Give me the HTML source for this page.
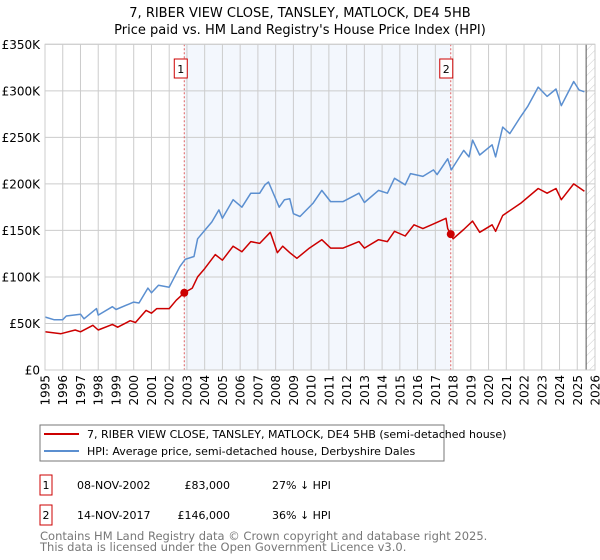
<!DOCTYPE html>
<html><head><meta charset="utf-8"><style>
body{margin:0;background:#fff;font-family:"DejaVu Sans","Liberation Sans",sans-serif;}
svg{display:block}
</style></head><body>
<svg id="c" width="600" height="560" xmlns="http://www.w3.org/2000/svg">
<defs><pattern id="hatch" width="6" height="6" patternUnits="userSpaceOnUse" patternTransform="rotate(45)"><line x1="0" y1="0" x2="0" y2="6" stroke="#ccc" stroke-width="1"/></pattern></defs>
<text x="300" y="17" text-anchor="middle" font-size="13" fill="#000">7, RIBER VIEW CLOSE, TANSLEY, MATLOCK, DE4 5HB</text>
<text x="300" y="34" text-anchor="middle" font-size="13" fill="#000">Price paid vs. HM Land Registry's House Price Index (HPI)</text>
<g id="plot"></g>
<rect x="40" y="425" width="404" height="36" fill="#fff" stroke="#777"/>
<line x1="44" y1="434" x2="79" y2="434" stroke="#cc0000" stroke-width="2"/>
<text x="87" y="438" font-size="11">7, RIBER VIEW CLOSE, TANSLEY, MATLOCK, DE4 5HB (semi-detached house)</text>
<line x1="44" y1="451" x2="79" y2="451" stroke="#5b8fd0" stroke-width="2"/>
<text x="87" y="455" font-size="11">HPI: Average price, semi-detached house, Derbyshire Dales</text>
<g>
<rect x="40" y="475" width="12" height="20" fill="#fff" stroke="#cc0000"/>
<text x="46" y="489" font-size="11" text-anchor="middle">1</text>
<text x="77" y="489" font-size="11">08-NOV-2002</text>
<text x="230" y="489" font-size="11" text-anchor="end">£83,000</text>
<text x="272" y="489" font-size="11">27% ↓ HPI</text></g>
<g>
<rect x="40" y="505" width="12" height="20" fill="#fff" stroke="#cc0000"/>
<text x="46" y="519" font-size="11" text-anchor="middle">2</text>
<text x="77" y="519" font-size="11">14-NOV-2017</text>
<text x="230" y="519" font-size="11" text-anchor="end">£146,000</text>
<text x="272" y="519" font-size="11">36% ↓ HPI</text></g>
<text x="40" y="540" font-size="11.5" fill="#777">Contains HM Land Registry data © Crown copyright and database right 2025.</text>
<text x="40" y="551" font-size="11.5" fill="#777">This data is licensed under the Open Government Licence v3.0.</text>
</svg>
<script>
const hpiYears=[1995,1995.5,1996,1996.2,1997,1997.2,1997.9,1998,1998.8,1999,2000,2000.3,2000.8,2001,2001.4,2002,2002.6,2002.9,2003.4,2003.6,2004,2004.4,2004.8,2005,2005.6,2006.1,2006.6,2007.1,2007.4,2007.6,2008.2,2008.5,2008.8,2009,2009.37,2010.1,2010.6,2011.1,2011.8,2012.7,2013.0,2013.8,2014.3,2014.7,2015.3,2015.6,2016.3,2016.9,2017.1,2017.7,2017.9,2018.6,2018.9,2019.1,2019.5,2020.2,2020.4,2020.8,2021.2,2021.8,2022.2,2022.8,2023.3,2023.8,2024.1,2024.8,2025.1,2025.4];
const hpiValues=[57,54,54,58,60,55,66,59,68,65,73,72,88,83,91,89,111,119,122,141,150,159,172,163,183,175,190,190,199,202,175,183,184,168,165,179,193,181,181,190,180,193,190,206,199,211,208,215,210,227,215,236,229,247,231,242,229,261,254,272,283,304,294,302,284,310,301,299];
const priceYears=[1995,1995.9,1996.7,1997,1997.7,1998,1998.8,1999.1,1999.8,2000.1,2000.7,2001,2001.3,2002,2002.4,2002.85,2003.3,2003.6,2004,2004.6,2005,2005.6,2006.1,2006.6,2007.1,2007.7,2008.1,2008.4,2008.8,2009.2,2009.9,2010.6,2011.1,2011.8,2012.7,2013,2013.8,2014.3,2014.7,2015.3,2015.8,2016.3,2016.9,2017.6,2017.7,2017.87,2018,2018.6,2019.1,2019.5,2020.2,2020.4,2020.8,2021.8,2022.8,2023.3,2023.8,2024.1,2024.8,2025.4];
const priceValues=[41,39,43,41,48,43,49,46,53,51,64,61,66,66,75,83,88,100,109,124,118,133,127,138,136,148,126,133,126,120,131,140,131,131,138,131,140,138,149,144,156,152,157,163,152,146,141,151,160,148,156,149,166,179,195,190,195,183,200,192];
const saleYears=[2002.85,2017.87];
const saleValues=[83,146];
const saleLabels=["1","2"];
const yTicks=[0,50,100,150,200,250,300,350];
const yTickLabels=["£0","£50K","£100K","£150K","£200K","£250K","£300K","£350K"];
const xTicks=[1995,1996,1997,1998,1999,2000,2001,2002,2003,2004,2005,2006,2007,2008,2009,2010,2011,2012,2013,2014,2015,2016,2017,2018,2019,2020,2021,2022,2023,2024,2025,2026];
const L=45,R=595,T=44.3,B=370,x0=1995,x1=2026,yMax=350,hatchStart=2025.5;
const X=v=>L+(v-x0)/(x1-x0)*(R-L);
const Y=v=>B-v/yMax*(B-T);
const NS="http://www.w3.org/2000/svg";
const g=document.getElementById('plot');
function mk(tag,attrs,parent){const e=document.createElementNS(NS,tag);for(const k in attrs)e.setAttribute(k,attrs[k]);(parent||g).appendChild(e);return e;}
let e=mk('rect',{x:X(saleYears[0]),y:T,width:X(saleYears[1])-X(saleYears[0]),height:B-T,fill:'#eef3fc',opacity:0.7});


e=mk('rect',{x:X(hatchStart),y:T,width:R-X(hatchStart),height:B-T,fill:'url(#hatch)'});


xTicks.forEach(t=>{
 e=mk('line',{x1:X(t),x2:X(t),y1:T,y2:B,stroke:'#ccc','stroke-width':1});
 
 
 e=mk('text',{x:0,y:0,'font-size':12,'text-anchor':'end',transform:`translate(${X(t)+4.5},${B+5}) rotate(-90)`});
 e.textContent=t;
 
 
});
yTicks.forEach((t,i)=>{
 e=mk('line',{x1:L,x2:R,y1:Y(t),y2:Y(t),stroke:'#ccc','stroke-width':1});
 
 
 e=mk('text',{x:40,y:Y(t)+4.5,'font-size':12,'text-anchor':'end'});
 e.textContent=yTickLabels[i];
 
 
});
e=mk('line',{x1:X(hatchStart),x2:X(hatchStart),y1:T,y2:B,stroke:'#555','stroke-width':1});


saleYears.forEach((s,i)=>{
 e=mk('line',{x1:X(s),x2:X(s),y1:T,y2:B,stroke:'#e06060','stroke-width':1,'stroke-dasharray':'2,2'});
 
 
 e=mk('rect',{x:X(s)-(i==0?10:11),y:59,width:13,height:19,fill:'#fff',stroke:'#cc0000'});
 
 
 e=mk('text',{x:X(s)-(i==0?3.5:4.5),y:73,'font-size':11,'text-anchor':'middle'});
 e.textContent=saleLabels[i];
 
 
});
const path=(xs,vs)=>xs.map((v,i)=>(i?'L':'M')+X(v).toFixed(1)+','+Y(vs[i]).toFixed(1)).join('');
e=mk('path',{d:path(hpiYears,hpiValues),fill:'none',stroke:'#5b8fd0','stroke-width':1.5,'stroke-linejoin':'round'});


e=mk('path',{d:path(priceYears,priceValues),fill:'none',stroke:'#cc0000','stroke-width':1.5,'stroke-linejoin':'round'});


saleYears.forEach((s,i)=>{
 e=mk('circle',{cx:X(s),cy:Y(saleValues[i]),r:4,fill:'#cc0000'});
 
 
});
e=mk('rect',{x:L,y:T,width:R-L,height:B-T,fill:'none',stroke:'#ccc'});


</script>
</body></html>
